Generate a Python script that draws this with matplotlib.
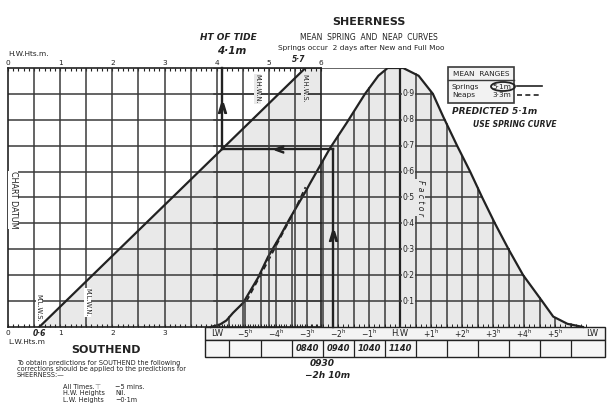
import numpy as np
import matplotlib
matplotlib.use("Agg")
import matplotlib.pyplot as plt
from matplotlib.patches import Polygon, Rectangle, Ellipse

W, H = 614, 411

# spring curve: hours from HW and factor
spring_hours = [-6.1, -5.8, -5.6, -5.39, -5.06, -4.58, -4.26, -3.87, -3.55, -3.06, -2.9, -2.26,
                -1.71, -1.13, -0.7, -0.4, 0.1, 0.6, 1.06, 1.4, 1.84, 2.26, 2.65, 3.06, 3.5,
                3.97, 4.58, 4.94, 5.4, 5.9]
spring_factor = [0.0, 0.01, 0.025, 0.054, 0.093, 0.19, 0.27, 0.35, 0.42, 0.52, 0.555, 0.69,
                 0.79, 0.9, 0.97, 1.0, 1.0, 0.97, 0.9, 0.81, 0.7, 0.6, 0.5, 0.4, 0.3,
                 0.2, 0.1, 0.04, 0.012, 0.0]

# short dashed neap section
neap_hours = [-4.95, -4.5, -4.1, -3.75, -3.4, -3.05]
neap_factor = [0.1, 0.2, 0.29, 0.37, 0.45, 0.54]

# heights (m)
mlws, mlwn, mhwn, mhws = 0.6, 1.5, 4.8, 5.7
height_of_tide = 4.1
answer_hours = -(2 + 10 / 60)   # 0930 vs HW 1140

hour_ticks = [-5, -4, -3, -2, -1, 1, 2, 3, 4, 5]
cell_hours = [-3, -2, -1, 0]
cell_times = ["0840", "0940", "1040", "1140"]
factor_labels = [0.1, 0.2, 0.3, 0.4, 0.5, 0.6, 0.7, 0.8, 0.9]

ink = "#222222"
gridc = "#3a3a3a"
tint = "#e9e9e9"
hand = dict(style="italic", weight="bold", color=ink)

fig = plt.figure(figsize=(W / 100, H / 100), dpi=100)


def rect(x0, y0, x1, y1):
    return [x0 / W, 1 - y1 / H, (x1 - x0) / W, (y1 - y0) / H]


ax_t = fig.add_axes(rect(205, 68, 605, 357))
ax_h = fig.add_axes(rect(8, 68, 321, 327))
ax_o = fig.add_axes([0, 0, 1, 1])

ax_t.set_xlim(-6.29, 6.61)
ax_t.set_ylim(-0.116, 1.0)
ax_t.axis("off")

ax_h.set_xlim(0, 6)
ax_h.set_ylim(0, 1)
ax_h.set_facecolor("none")
for s in ax_h.spines.values():
    s.set_color(ink)
    s.set_linewidth(1.2)
ax_h.set_xticks([])
ax_h.set_yticks([])
ax_h.set_xticks(np.arange(0, 6.01, 0.1), minor=True)
ax_h.tick_params(axis="x", which="minor", direction="in", top=True, bottom=True,
                 length=2.5, width=0.8, color=ink)

ax_o.set_xlim(0, W)
ax_o.set_ylim(H, 0)
ax_o.axis("off")

# tinted areas (both drawn in the lower axes)
ax_t.fill_between(spring_hours, spring_factor, 0, color=tint, zorder=0, lw=0)
ax_t.add_patch(Polygon([(mlws, 0), (mhws, 1), (6, 1), (6, 0)], closed=True,
                       transform=ax_h.transData, color=tint, lw=0, zorder=0, clip_on=False))

# time grid, limited by the curve
grid_hours = np.arange(-6, 6.01, 0.5)
tops = np.interp(grid_hours, spring_hours, spring_factor)
for h, top in zip(grid_hours, tops):
    ax_t.plot([h, h], [0, top], color=gridc, lw=1.1, zorder=1)
ax_t.plot([0, 0], [0, 1], color=ink, lw=1.6, zorder=1)

fall_h = [h for h in spring_hours if h >= 0.1]
fall_f = [f for h, f in zip(spring_hours, spring_factor) if h >= 0.1]
levels = factor_labels + [1.0]
ends = np.interp(levels, fall_f[::-1], fall_h[::-1])
for lv, e in zip(levels, ends):
    ax_t.plot([-6.0, e], [lv, lv], color=gridc, lw=1.1, zorder=1)

ax_t.plot(spring_hours, spring_factor, color=ink, lw=1.6, zorder=3)
ax_t.plot(neap_hours, neap_factor, color=ink, lw=1.3, ls=(0, (3, 2)), zorder=3)

# small ticks along LW base
ax_t.vlines(np.arange(-6, 6.01, 1 / 6), 0, 0.012, color=ink, lw=0.7)

# time label bar and table
ax_t.add_patch(Rectangle((-6.29, -0.05), 12.9, 0.05, fc="#f3f3f3", ec=ink, lw=1.0, clip_on=False))
ax_t.add_patch(Rectangle((-6.29, -0.116), 12.9, 0.066, fc="#f6f6f6", ec=ink, lw=1.0, clip_on=False))
ax_t.vlines(np.arange(-5.5, 5.51, 1.0), -0.116, -0.05, color=ink, lw=0.9, clip_on=False)
for h in hour_ticks:
    sign = "+" if h > 0 else "\u2212"
    ax_t.text(h, -0.025, f"{sign}{abs(h)}$^{{\\rm h}}$", ha="center", va="center", fontsize=5.5,
              color=ink, clip_on=False)
ax_t.text(0, -0.025, "H.W", ha="center", va="center", fontsize=6, color=ink)
ax_t.text(-5.9, -0.025, "LW", ha="center", va="center", fontsize=6, color=ink)
ax_t.text(6.2, -0.025, "LW", ha="center", va="center", fontsize=6, color=ink)
for h, s in zip(cell_hours, cell_times):
    ax_t.text(h, -0.083, s, ha="center", va="center", fontsize=6, **hand)

for f in factor_labels:
    ax_t.text(0.27, f, f"0\u00b7{int(round(f * 10))}", ha="center", va="center", fontsize=5.5,
              color=ink, zorder=4,
              bbox=dict(fc=tint, ec="none", pad=0.3))
ax_t.text(0.65, 0.5, "F a c t o r", rotation=-90, ha="center", va="center", fontsize=5.5,
          style="italic", color=ink, zorder=4, bbox=dict(fc=tint, ec="none", pad=0.3))

# heights grid
ax_h.vlines(np.arange(0.5, 6, 0.5), 0, 1, color=gridc, lw=1.1)
ax_h.hlines(factor_labels, 0, 6, color=gridc, lw=1.1)
ax_h.plot([mlws, mhws], [0, 1], color=ink, lw=1.6, zorder=3)
for x in range(7):
    ax_h.text(x, 1.008, str(x), ha="center", va="bottom", fontsize=5.3, color=ink, clip_on=False)
for x in range(4):
    ax_h.text(x, -0.024, str(x), ha="center", va="center", fontsize=5.3, color=ink, clip_on=False)
ax_h.text(mlws, -0.024, "0\u00b76", ha="center", va="center", fontsize=5.5, clip_on=False, **hand)

lab = dict(rotation=-90, ha="center", va="center", fontsize=4.8, color=ink,
           bbox=dict(fc="white", ec="none", pad=0.2), zorder=4)
ax_h.text(mlws - 0.01, 0.075, "M.L.W.S.", **lab)
ax_h.text(mlwn + 0.02, 0.095, "M.L.W.N.", **lab)
lab["bbox"] = dict(fc=tint, ec="none", pad=0.2)
ax_h.text(mhwn - 0.02, 0.92, "M.H.W.N.", **lab)
ax_h.text(mhws - 0.02, 0.92, "M.H.W.S.", **lab)
ax_h.text(0.1, 0.49, "CHART DATUM", rotation=-90, ha="center", va="center", fontsize=5.8,
          color=ink, bbox=dict(fc="white", ec="none", pad=0.3))

# hand-drawn working
f_tide = (height_of_tide - mlws) / (mhws - mlws)
disp = ax_t.transData.transform((answer_hours, f_tide))
x_end = ax_h.transData.inverted().transform(disp)[0]
ax_h.plot([height_of_tide, height_of_tide], [1.0, f_tide], color=ink, lw=1.7, zorder=5, clip_on=False)
ax_h.plot([height_of_tide, x_end], [f_tide, f_tide], color=ink, lw=1.7, zorder=5, clip_on=False)
ax_t.plot([answer_hours, answer_hours], [f_tide, 0], color=ink, lw=1.7, zorder=5)
ax_h.plot([height_of_tide], [0.845], marker="$\\wedge$", ms=7, color=ink, zorder=6)
ax_h.plot([5.2], [f_tide], marker="$<$", ms=6, color=ink, zorder=6)
ax_t.plot([answer_hours], [0.35], marker="$\\wedge$", ms=7, color=ink, zorder=6)


# titles and notes (pixel layout)
def otext(x, y, s, **kw):
    kw.setdefault("color", ink)
    kw.setdefault("va", "center")
    ax_o.text(x, y, s, **kw)


otext(369, 22, "SHEERNESS", ha="center", fontsize=8, weight="bold")
otext(369, 37, "MEAN  SPRING  AND  NEAP  CURVES", ha="center", fontsize=5.5)
otext(278, 48, "Springs occur  2 days after New and Full Moo", ha="left", fontsize=5.3)
otext(8, 54, "H.W.Hts.m.", ha="left", fontsize=5.3)
otext(8, 342, "L.W.Hts.m", ha="left", fontsize=5.3)

otext(228, 38, "HT OF TIDE", ha="center", fontsize=6.5, **hand)
otext(232, 51, "4\u00b71m", ha="center", fontsize=7.5, **hand)
otext(299, 60, "5\u00b77", ha="center", fontsize=5.5, **hand)
otext(452, 111, "PREDICTED 5\u00b71m", ha="left", fontsize=6.5, **hand)
otext(473, 124, "USE SPRING CURVE", ha="left", fontsize=5.5, **hand)
otext(322, 363, "0930", ha="center", fontsize=6.5, **hand)
otext(328, 375, "\u22122h 10m", ha="center", fontsize=6.5, **hand)

# mean ranges box
ax_o.add_patch(Rectangle((448, 67), 66, 36, fc="#f2f2f2", ec=gridc, lw=1.2))
ax_o.plot([448, 514], [80, 80], color=gridc, lw=1.0)
otext(481, 74, "MEAN  RANGES", ha="center", fontsize=5.3)
otext(452, 87, "Springs", ha="left", fontsize=5.3)
otext(502, 87, "5\u00b71m", ha="center", fontsize=5.3)
otext(452, 95, "Neaps", ha="left", fontsize=5.3)
otext(502, 95, "3\u00b73m", ha="center", fontsize=5.3)
ax_o.add_patch(Ellipse((503, 86.5), 24, 9, fill=False, ec=ink, lw=1.3))
ax_o.plot([517, 542], [86, 86], color=ink, lw=1.2)
ax_o.plot([517, 542], [95, 95], color=ink, lw=1.2, ls=(0, (3, 2)))

# Southend corrections
otext(106, 350, "SOUTHEND", ha="center", fontsize=8, weight="bold")
otext(17, 363, "To obtain predictions for SOUTHEND the following", ha="left", fontsize=4.7)
otext(17, 369, "corrections should be applied to the predictions for", ha="left", fontsize=4.7)
otext(17, 375, "SHEERNESS:\u2014", ha="left", fontsize=4.7)
otext(63, 387, "All Times.", ha="left", fontsize=4.7)
otext(97, 387, "\u22a4", ha="center", fontsize=5, color="#888888")
otext(115, 387, "\u22125 mins.", ha="left", fontsize=4.7)
otext(63, 393, "H.W. Heights", ha="left", fontsize=4.7)
otext(115, 393, "Nil.", ha="left", fontsize=4.7)
otext(63, 400, "L.W. Heights", ha="left", fontsize=4.7)
otext(115, 400, "\u22120\u00b71m", ha="left", fontsize=4.7)

fig.savefig("out.png", dpi=100)
